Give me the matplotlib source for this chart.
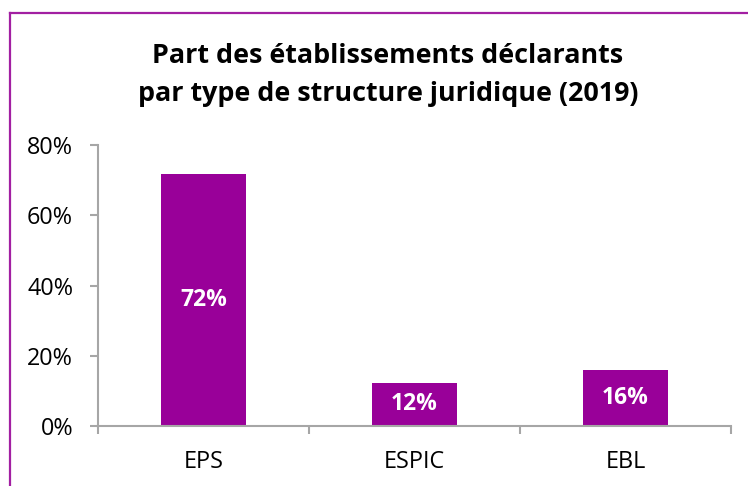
import matplotlib
matplotlib.use("Agg")
import matplotlib.pyplot as plt
from matplotlib.lines import Line2D

# data
categories = ["EPS", "ESPIC", "EBL"]
shares = [71.7, 12.3, 16.0]          # % of declaring establishments
share_labels = ["72%", "12%", "16%"]
y_ticks = [0, 20, 40, 60, 80]
y_tick_labels = ["0%", "20%", "40%", "60%", "80%"]
title = "Part des établissements déclarants\npar type de structure juridique (2019)"

W, H = 748, 486
bar_color = "#990099"
axis_color = "#A6A6A6"
border_color = "#A21FA2"

plt.rcParams["font.family"] = ["Open Sans", "DejaVu Sans"]

fig = plt.figure(figsize=(W / 100, H / 100), dpi=100)

# axes placed in pixel coordinates
left, right, bottom, top = 98, 731, 426, 145
ax = fig.add_axes([left / W, (H - bottom) / H, (right - left) / W, (bottom - top) / H])

x = range(len(categories))
ax.bar(x, shares, width=0.4, color=bar_color, zorder=2)
for xi, v, lab in zip(x, shares, share_labels):
    ax.text(xi, v / 2, lab, ha="center", va="center", color="white",
            fontsize=16.5, fontweight="bold")

ax.set_xlim(-0.5, len(categories) - 0.5)
ax.set_ylim(0, 80)
ax.set_yticks(y_ticks)
ax.set_yticklabels(y_tick_labels, fontsize=16.8)
ax.set_xticks(list(x))
ax.set_xticklabels(categories, fontsize=16.8)
ax.set_xticks([i - 0.5 for i in range(len(categories) + 1)], minor=True)

for s in ["top", "right"]:
    ax.spines[s].set_visible(False)
for s in ["left", "bottom"]:
    ax.spines[s].set_color(axis_color)
    ax.spines[s].set_linewidth(1.5)

ax.tick_params(axis="y", direction="out", length=6, width=1.5, color=axis_color,
               pad=12, labelcolor="black")
ax.tick_params(axis="x", which="major", length=0, pad=17, labelcolor="black")
ax.tick_params(axis="x", which="minor", direction="out", length=6, width=1.5,
               color=axis_color)

fig.text(0.5 * (146 + 630) / W, 1 - 75 / H, title, ha="center", va="center",
         fontsize=19.4, fontweight="bold", linespacing=1.6)

# chart frame (only left and top edges are inside the picture)
bx, by = 10 / W, 1 - 13.5 / H
fig.add_artist(Line2D([bx, bx], [-0.05, by], transform=fig.transFigure,
                      color=border_color, linewidth=1.6))
fig.add_artist(Line2D([bx, 1.05], [by, by], transform=fig.transFigure,
                      color=border_color, linewidth=1.6))

fig.savefig("out.png", dpi=100)
